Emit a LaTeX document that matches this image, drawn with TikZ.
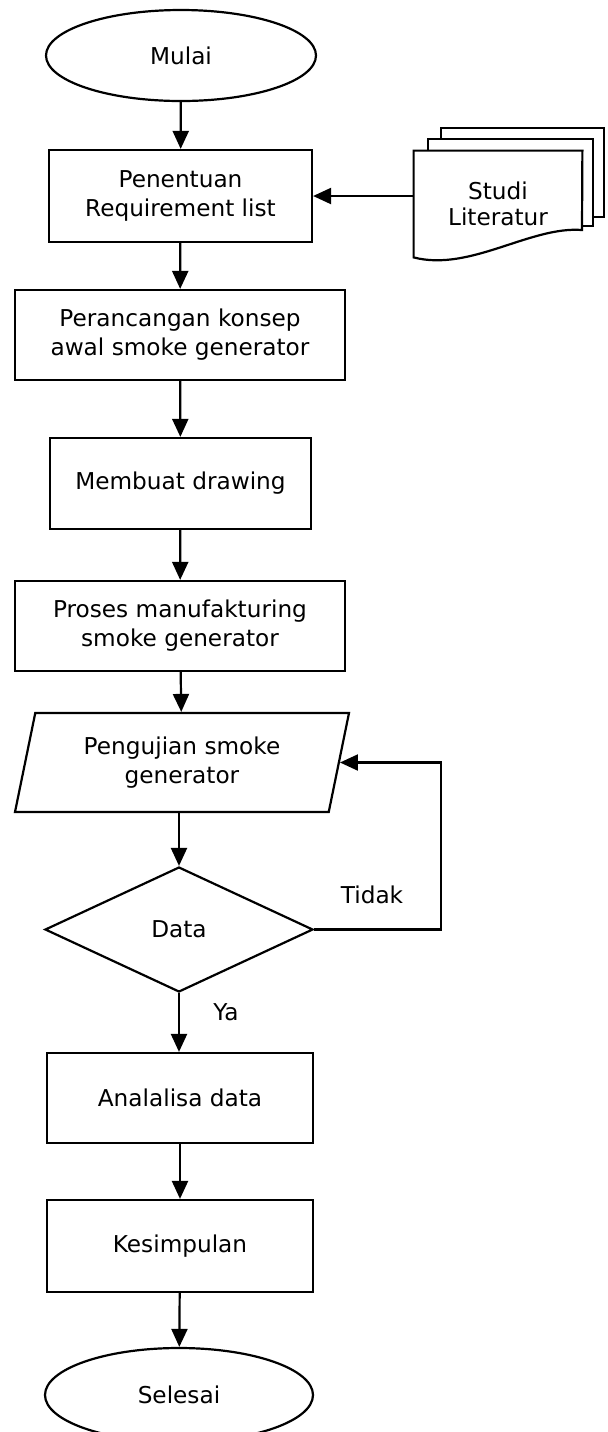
\documentclass[tikz,border=0pt]{standalone}
\usepackage{fontspec}
\setmainfont{DejaVu Sans}
\usepackage{tikz}
\usetikzlibrary{arrows.meta,shapes.geometric}

\tikzset{
  flowtext/.style={font=\fontsize{11.6}{14.5}\selectfont, align=center},
  procbox/.style={draw, line width=1.1pt, flowtext, inner sep=0pt},
  termnode/.style={ellipse, draw, line width=1.1pt, flowtext, inner sep=0pt},
  ionode/.style={trapezium, trapezium left angle=68.5, trapezium right angle=111.5,
    trapezium stretches body, draw, line width=1.1pt, flowtext, inner sep=0pt},
  decnode/.style={diamond, draw, line width=1.1pt, flowtext, inner sep=0pt},
  flow/.style={-{Triangle[length=9pt, width=8pt]}, line width=1.1pt},
}

\begin{document}
\begin{tikzpicture}[x=0.5pt, y=-0.5pt]
\useasboundingbox (0,0) rectangle (608,1432);

% --- Main column ---
\node[termnode, minimum width=135pt, minimum height=45.5pt] (mulai) at (181,55.5) {Mulai};
\node[procbox, minimum width=131.5pt, minimum height=46pt] (penentuan) at (180.5,196)
  {Penentuan\\Requirement list};
\node[procbox, minimum width=165pt, minimum height=45pt] (perancangan) at (180,335)
  {Perancangan konsep\\awal smoke generator};
\node[procbox, minimum width=130.5pt, minimum height=45.5pt] (drawing) at (180.5,483.5)
  {Membuat drawing};
\node[procbox, minimum width=165pt, minimum height=45pt] (manufaktur) at (180,626)
  {Proses manufakturing\\smoke generator};
\node[ionode, minimum width=167pt, minimum height=49.5pt] (pengujian) at (182,762.5)
  {Pengujian smoke\\generator};
\node[decnode, minimum width=134pt, minimum height=62.5pt] (data) at (179,929.5) {Data};
\node[procbox, minimum width=133pt, minimum height=45pt] (analisa) at (180,1098)
  {Analalisa data};
\node[procbox, minimum width=133pt, minimum height=46pt] (kesimpulan) at (180,1246)
  {Kesimpulan};
\node[termnode, minimum width=134pt, minimum height=47pt] (selesai) at (179,1395) {Selesai};

% --- Studi literatur (multi document) ---
\draw[line width=1.1pt, fill=white] (441,128) rectangle (604,217);
\draw[line width=1.1pt, fill=white] (428,139) rectangle (593,226);
\node[flowtext, minimum width=84pt, minimum height=53pt] (studi) at (498,204) {};
\draw[line width=1.1pt, fill=white] (studi.north west) -- (studi.north east)
  -- (582,230) .. controls (530,226) and (470,272) .. (studi.south west) -- cycle;
\node[flowtext, font=\fontsize{11.6}{13.3}\selectfont] at (studi) {Studi\\Literatur};

% --- Connectors ---
\draw[flow] (mulai) -- (penentuan);
\draw[flow] (studi.west |- penentuan.east) -- (penentuan.east);
\draw[flow] (penentuan) -- (perancangan);
\draw[flow] (perancangan) -- (drawing);
\draw[flow] (drawing) -- (manufaktur);
\draw[flow] (manufaktur) -- (pengujian);
\draw[flow] (pengujian.south -| data.north) -- (data.north);
\draw[flow] (data.east) -- ++(127,0) |- (pengujian.east);
\draw[flow] (data.south) -- (analisa.north -| data.south);
\draw[flow] (analisa) -- (kesimpulan);
\draw[flow] (kesimpulan) -- (selesai);

% Labels
\node[flowtext] (tidak) at (372,895) {Tidak};
\node[flowtext] (ya) at (226,1012) {Ya};

\end{tikzpicture}
\end{document}
